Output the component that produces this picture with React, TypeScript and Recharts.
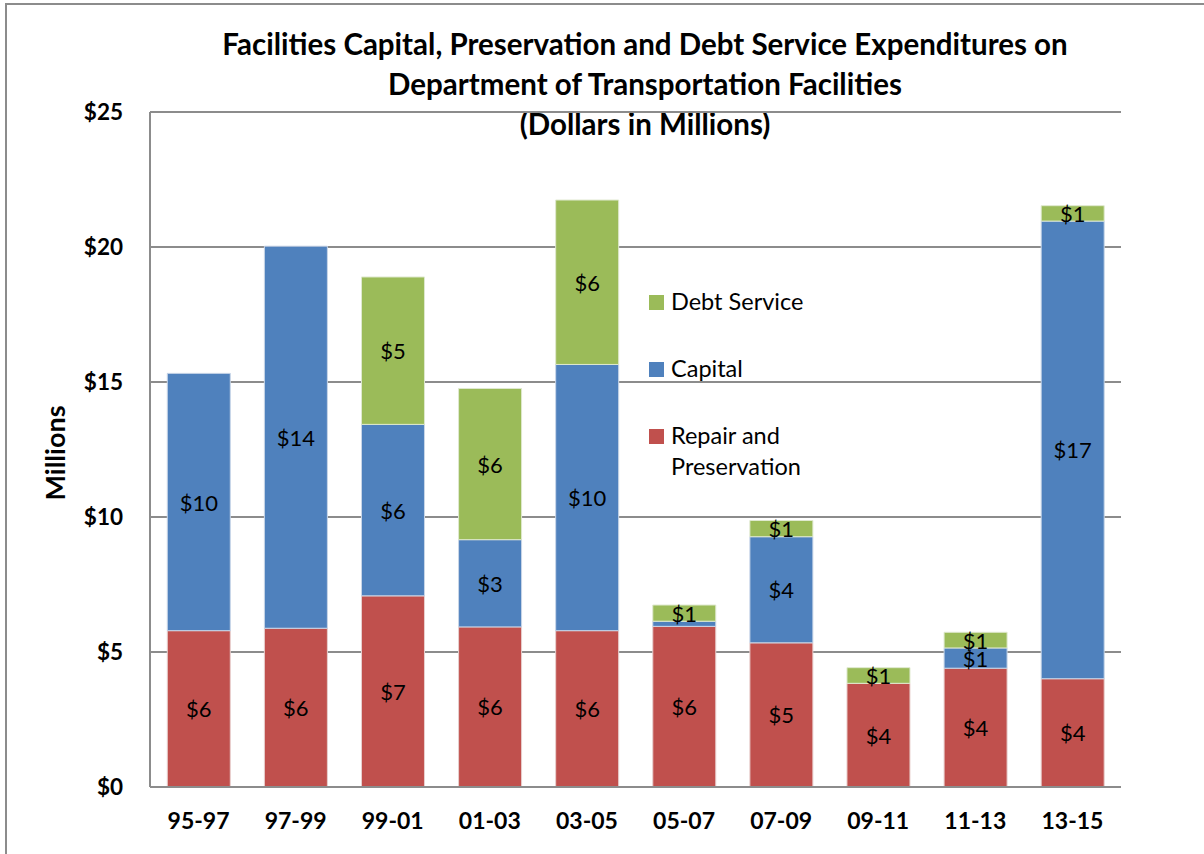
import React from "react";
import { BarChart, Bar, XAxis, YAxis, CartesianGrid, LabelList } from "recharts";

const periods = ["95-97", "97-99", "99-01", "01-03", "03-05", "05-07", "07-09", "09-11", "11-13", "13-15"];
const repair = [5.79, 5.88, 7.08, 5.93, 5.79, 5.95, 5.34, 3.84, 4.4, 4.01];
const capital = [9.53, 14.15, 6.35, 3.23, 9.86, 0.19, 3.93, 0, 0.75, 16.95];
const debt = [0, 0, 5.46, 5.6, 6.09, 0.6, 0.6, 0.58, 0.58, 0.57];
const yTicks = [0, 5, 10, 15, 20, 25];

const data = periods.map((p, i) => ({
  period: p,
  repair: repair[i],
  capital: capital[i],
  debt: debt[i],
}));

const FONT = "Lato, 'Open Sans', sans-serif";
const RED = "#C0504D";
const BLUE = "#4F81BD";
const GREEN = "#9BBB59";

const legendItems = [
  { name: "Debt Service", color: GREEN },
  { name: "Capital", color: BLUE },
  { name: "Repair and\nPreservation", color: RED },
];

function SegmentLabel(props: any) {
  const { x, y, width, height, value } = props;
  const r = Math.round(Number(value));
  if (!r) return null;
  return (
    <text
      x={x + width / 2}
      y={y + height / 2}
      textAnchor="middle"
      dominantBaseline="central"
      fontFamily={FONT}
      fontSize={22}
      fill="#000"
    >
      {"$" + r}
    </text>
  );
}

export default function App() {
  return (
    <div style={{ position: "fixed", left: 0, top: 0, width: 1204, height: 854, background: "#fff", overflow: "hidden" }}>
      <div style={{ position: "absolute", left: 5, top: 3, width: 1300, height: 900, border: "2px solid #8c8c8c" }} />
      <div
        style={{
          position: "absolute",
          left: 95,
          width: 1100,
          top: 24,
          textAlign: "center",
          fontFamily: FONT,
          fontWeight: 700,
          fontSize: 29.5,
          lineHeight: "40px",
          color: "#000",
        }}
      >
        Facilities Capital, Preservation and Debt Service Expenditures on
        <br />
        Department of Transportation Facilities
        <br />
        (Dollars in Millions)
      </div>
      <div
        style={{
          position: "absolute",
          left: 54,
          top: 453,
          transform: "translate(-50%, -50%) rotate(-90deg)",
          fontFamily: FONT,
          fontWeight: 700,
          fontSize: 27,
          color: "#000",
          whiteSpace: "nowrap",
        }}
      >
        Millions
      </div>
      <div style={{ position: "absolute", left: 0, top: 0 }}>
        <BarChart
          width={1204}
          height={854}
          data={data}
          margin={{ top: 112, right: 83, bottom: 27, left: 50 }}
          barCategoryGap="17.8%"
        >
          <CartesianGrid vertical={false} stroke="#8c8c8c" strokeWidth={2} />
          <XAxis
            dataKey="period"
            height={40}
            stroke="#8c8c8c"
            strokeWidth={2}
            tickLine={false}
            tick={{ fill: "#000", fontFamily: FONT, fontWeight: 700, fontSize: 23 }}
            tickMargin={20}
          />
          <YAxis
            width={100}
            domain={[0, 25]}
            ticks={yTicks}
            stroke="#8c8c8c"
            strokeWidth={2}
            tickLine={false}
            tickFormatter={(v: number) => "$" + v}
            tick={{ fill: "#000", fontFamily: FONT, fontWeight: 700, fontSize: 22.5 }}
            tickMargin={21}
          />
          <Bar dataKey="repair" stackId="a" fill={RED} stroke="#e8d0cf" strokeWidth={1} isAnimationActive={false}>
            <LabelList dataKey="repair" content={SegmentLabel} />
          </Bar>
          <Bar dataKey="capital" stackId="a" fill={BLUE} stroke="#c9d6e8" strokeWidth={1} isAnimationActive={false}>
            <LabelList dataKey="capital" content={SegmentLabel} />
          </Bar>
          <Bar dataKey="debt" stackId="a" fill={GREEN} stroke="#dfe9cf" strokeWidth={1} isAnimationActive={false}>
            <LabelList dataKey="debt" content={SegmentLabel} />
          </Bar>
        </BarChart>
      </div>
      {legendItems.map((it, i) => (
        <div
          key={it.name}
          style={{
            position: "absolute",
            left: 649,
            top: 286 + i * 67,
            display: "flex",
            alignItems: "flex-start",
            fontFamily: FONT,
            fontSize: 23.5,
            lineHeight: "31px",
            color: "#000",
            whiteSpace: "pre",
          }}
        >
          <span style={{ display: "inline-block", width: 15, height: 15, background: it.color, marginTop: 9, marginRight: 7 }} />
          <span>{it.name}</span>
        </div>
      ))}
    </div>
  );
}
